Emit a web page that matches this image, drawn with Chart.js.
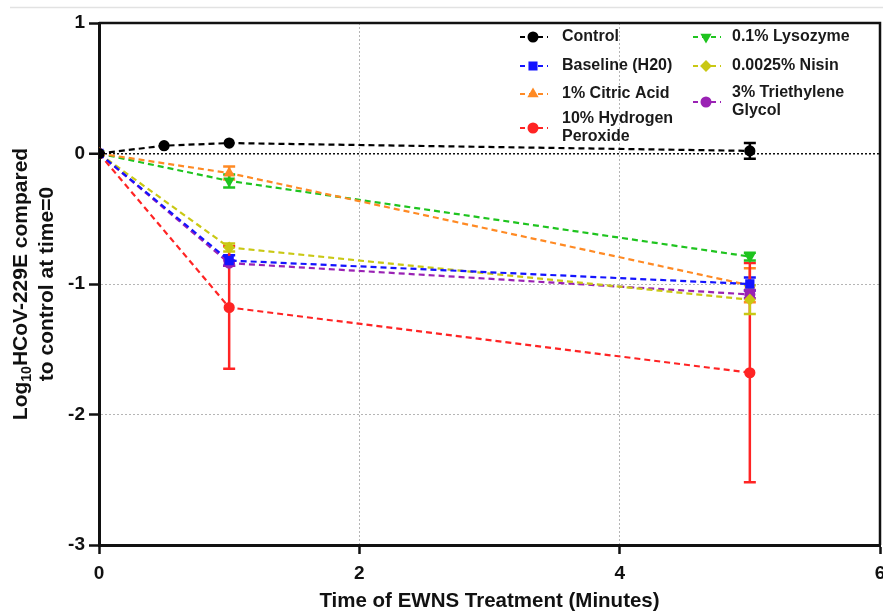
<!DOCTYPE html>
<html>
<head>
<meta charset="utf-8">
<script src="https://cdn.jsdelivr.net/npm/chart.js@4.4.0/dist/chart.umd.min.js"></script>
<style>
  html, body { margin: 0; padding: 0; background: #fff; }
  #wrap { width: 883px; height: 615px; }
</style>
</head>
<body>
<div id="wrap"><canvas id="ewnsChart"></canvas></div>
<script>
// time points (minutes)
const controlTime = [0, 0.5, 1, 5];
const treatTime = [0, 1, 5];

// log10 reduction means and error bars
const controlMean = [0, 0.06, 0.08, 0.02];
const controlErr = [0, 0, 0, 0.06];
const baselineMean = [0, -0.82, -1.0];
const baselineErr = [0, 0.04, 0.05];
const citricMean = [0, -0.15, -1.01];
const citricErr = [0, 0.05, 0.13];
const peroxideMean = [0, -1.18, -1.68];
const peroxideErr = [0, 0.47, 0.84];
const lysozymeMean = [0, -0.21, -0.79];
const lysozymeErr = [0, 0.05, 0.03];
const nisinMean = [0, -0.72, -1.12];
const nisinErr = [0, 0.03, 0.11];
const tegMean = [0, -0.84, -1.08];
const tegErr = [0, 0.02, 0.03];

const seriesNames = [['Control'], ['Baseline (H20)'], ['1% Citric Acid'], ['10% Hydrogen', 'Peroxide'],
                     ['0.1% Lysozyme'], ['0.0025% Nisin'], ['3% Triethylene', 'Glycol']];

const yTicks = [1, 0, -1, -2, -3];
const xTicks = [0, 2, 4, 6];

const FONT = "'Liberation Sans', Arial, sans-serif";
Chart.defaults.font.family = FONT;
Chart.defaults.color = '#111';

function pts(xs, ys) {
    return xs.map((x, i) => ({ x: x, y: ys[i] }));
}

function series(name, xs, ys, errs, color, style, rot) {
    return {
        label: name.join(' '),
        legendLines: name,
        data: pts(xs, ys),
        errors: errs,
        borderColor: color,
        backgroundColor: color,
        pointBackgroundColor: color,
        pointBorderColor: color,
        pointStyle: style,
        pointRotation: rot || 0,
        pointRadius: style === 'rect' ? 5 : 4.5,
        pointHoverRadius: 5,
        borderWidth: 2.2,
        borderDash: [6, 4],
        showLine: true,
        fill: false,
        tension: 0
    };
}

// error bars drawn under the markers
const errorBars = {
    id: 'errorBars',
    beforeDatasetsDraw(chart) {
        const ctx = chart.ctx;
        const xs = chart.scales.x, ys = chart.scales.y;
        chart.data.datasets.forEach(ds => {
            ds.data.forEach((p, i) => {
                const e = ds.errors[i];
                if (!e) return;
                const px = xs.getPixelForValue(p.x);
                const top = ys.getPixelForValue(p.y + e);
                const bot = ys.getPixelForValue(p.y - e);
                ctx.save();
                ctx.strokeStyle = ds.borderColor;
                ctx.lineWidth = 2.5;
                ctx.beginPath();
                ctx.moveTo(px, top); ctx.lineTo(px, bot);
                ctx.moveTo(px - 6, top); ctx.lineTo(px + 6, top);
                ctx.moveTo(px - 6, bot); ctx.lineTo(px + 6, bot);
                ctx.stroke();
                ctx.restore();
            });
        });
    }
};

// top and right frame lines + y title with subscript
const frame = {
    id: 'frame',
    afterDraw(chart) {
        const ctx = chart.ctx;
        const a = chart.chartArea;
        ctx.save();
        ctx.strokeStyle = '#e2e2e2';
        ctx.lineWidth = 1.5;
        ctx.beginPath();
        ctx.moveTo(10, 7.5); ctx.lineTo(883, 7.5);
        ctx.stroke();

        ctx.strokeStyle = '#111';
        ctx.lineWidth = 2.5;
        ctx.beginPath();
        ctx.moveTo(a.left, a.top); ctx.lineTo(a.right, a.top);
        ctx.lineTo(a.right, a.bottom);
        ctx.stroke();

        // y axis title
        const cy = (a.top + a.bottom) / 2;
        ctx.fillStyle = '#111';
        ctx.textBaseline = 'middle';
        ctx.translate(21, cy);
        ctx.rotate(-Math.PI / 2);
        const big = 'bold 21px ' + FONT, small = 'bold 14px ' + FONT;
        ctx.font = big;
        const w1 = ctx.measureText('Log').width;
        const w3 = ctx.measureText('HCoV-229E compared').width;
        ctx.font = small;
        const w2 = ctx.measureText('10').width;
        let x = -(w1 + w2 + w3) / 2;
        ctx.textAlign = 'left';
        ctx.font = big; ctx.fillText('Log', x, 0); x += w1;
        ctx.font = small; ctx.fillText('10', x, 6); x += w2;
        ctx.font = big; ctx.fillText('HCoV-229E compared', x, 0);
        ctx.textAlign = 'center';
        ctx.fillText('to control at time=0', 0, 26);
        ctx.restore();
    }
};

// two-column legend inside the plot
const legendBox = {
    id: 'legendBox',
    afterDraw(chart) {
        const ctx = chart.ctx;
        const cols = [{ mx: 533, tx: 562, items: [0, 1, 2, 3], ys: [37, 66, 94, 128] },
                      { mx: 706, tx: 732, items: [4, 5, 6], ys: [37, 66, 102] }];
        ctx.save();
        ctx.font = 'bold 16px ' + FONT;
        ctx.textBaseline = 'middle';
        ctx.textAlign = 'left';
        cols.forEach(col => {
            col.items.forEach((di, k) => {
                const ds = chart.data.datasets[di];
                const y = col.ys[k];
                ctx.strokeStyle = ds.borderColor;
                ctx.fillStyle = ds.borderColor;
                ctx.lineWidth = 2;
                ctx.setLineDash([5, 4]);
                ctx.beginPath();
                ctx.moveTo(col.mx - 13, y); ctx.lineTo(col.mx + 15, y);
                ctx.stroke();
                ctx.setLineDash([]);
                Chart.helpers.drawPoint(ctx, {
                    pointStyle: ds.pointStyle, rotation: ds.pointRotation,
                    radius: ds.pointRadius, borderWidth: 1
                }, col.mx, y);
                ctx.fillStyle = '#1a1a1a';
                const lines = ds.legendLines;
                lines.forEach((t, j) => {
                    ctx.fillText(t, col.tx, y + (j - (lines.length - 1) / 2) * 18);
                });
            });
        });
        ctx.restore();
    }
};

const ctx = document.getElementById('ewnsChart').getContext('2d');
const ewnsChart = new Chart(ctx, {
    type: 'line',
    data: {
        datasets: [
            series(seriesNames[0], controlTime, controlMean, controlErr, '#000000', 'circle'),
            series(seriesNames[1], treatTime, baselineMean, baselineErr, '#1414ff', 'rect'),
            series(seriesNames[2], treatTime, citricMean, citricErr, '#ff8a24', 'triangle'),
            series(seriesNames[3], treatTime, peroxideMean, peroxideErr, '#ff2424', 'circle'),
            series(seriesNames[4], treatTime, lysozymeMean, lysozymeErr, '#1fc41f', 'triangle', 180),
            series(seriesNames[5], treatTime, nisinMean, nisinErr, '#c9c814', 'rectRot'),
            series(seriesNames[6], treatTime, tegMean, tegErr, '#9a22b4', 'circle')
        ]
    },
    options: {
        responsive: true,
        maintainAspectRatio: false,
        animation: false,
        layout: { autoPadding: false, padding: { top: 23, right: 3, left: 0, bottom: 0 } },
        plugins: {
            legend: { display: false },
            tooltip: { enabled: false }
        },
        scales: {
            x: {
                type: 'linear',
                min: 0, max: 6,
                afterBuildTicks: s => { s.ticks = xTicks.map(v => ({ value: v })); },
                afterFit: s => { s.height = 70; s.paddingLeft = 0; s.paddingRight = 0; },
                ticks: { font: { size: 19, weight: 'bold' }, color: '#111', padding: 8, maxRotation: 0 },
                grid: {
                    color: c => (c.tick && (c.tick.value === 0 || c.tick.value === 6)) ? 'rgba(0,0,0,0)' : '#b5b5b5',
                    lineWidth: 1,
                    tickColor: '#111', tickWidth: 2.5, tickLength: 9
                },
                border: { display: true, color: '#111', width: 3, dash: [2, 2] },
                title: {
                    display: true, text: 'Time of EWNS Treatment (Minutes)',
                    font: { size: 20.5, weight: 'bold' }, color: '#111',
                    padding: { top: 0, bottom: 1 }
                }
            },
            y: {
                min: -3, max: 1,
                afterBuildTicks: s => { s.ticks = yTicks.map(v => ({ value: v })); },
                afterFit: s => { s.width = 99; },
                ticks: { font: { size: 19, weight: 'bold' }, color: '#111', padding: 4 },
                grid: {
                    color: c => {
                        if (!c.tick) return '#b5b5b5';
                        if (c.tick.value === 0) return '#111';
                        if (c.tick.value === 1 || c.tick.value === -3) return 'rgba(0,0,0,0)';
                        return '#b5b5b5';
                    },
                    lineWidth: c => (c.tick && c.tick.value === 0) ? 1.5 : 1,
                    tickColor: '#111', tickWidth: 2.5, tickLength: 10
                },
                border: { display: true, color: '#111', width: 3, dash: [2, 2] },
                title: { display: false }
            }
        }
    },
    plugins: [errorBars, frame, legendBox]
});
</script>
</body>
</html>
